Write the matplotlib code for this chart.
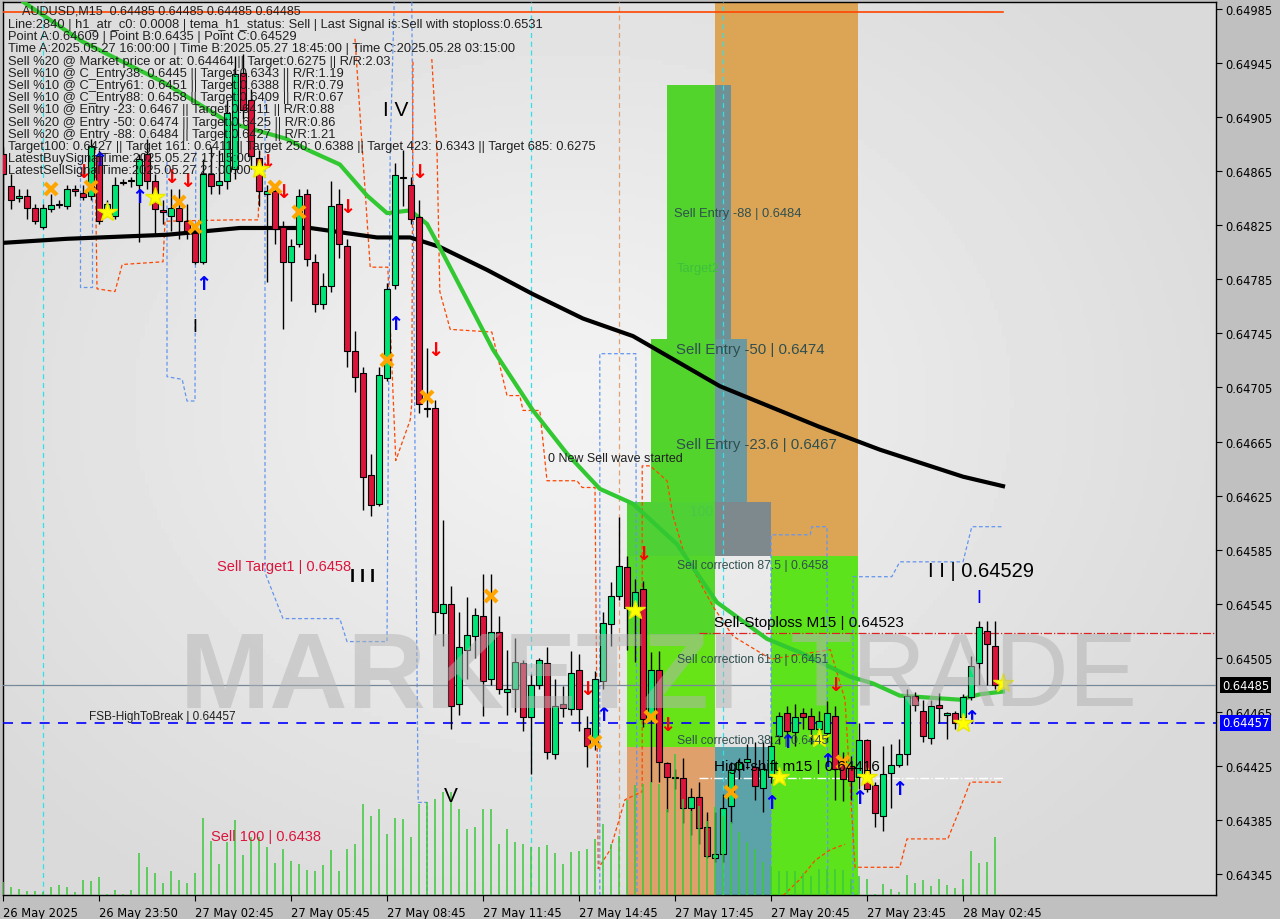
import numpy as np
import matplotlib
matplotlib.use("Agg")
import matplotlib.pyplot as plt
from matplotlib.patches import Rectangle

# ---- candles (AUDUSD M15), bar index 0..124 ----
opens = [0.64878, 0.64854, 0.64845, 0.64847, 0.64838, 0.64824, 0.64837, 0.64840, 0.64839, 0.64852,
         0.64849, 0.64847, 0.64876, 0.64835, 0.64832, 0.64856, 0.64858, 0.64855, 0.64878, 0.64858,
         0.64836, 0.64832, 0.64838, 0.64828, 0.64819, 0.64798, 0.64863, 0.64855, 0.64858, 0.64867,
         0.64938, 0.64918, 0.64875, 0.64848, 0.64850, 0.64824, 0.64798, 0.64811, 0.64848, 0.64798,
         0.64767, 0.64780, 0.64841, 0.64810, 0.64732, 0.64716, 0.64640, 0.64619, 0.64712, 0.64781,
         0.64860, 0.64855, 0.64831, 0.64690, 0.64690, 0.64538, 0.64545, 0.64471, 0.64511, 0.64521,
         0.64536, 0.64489, 0.64524, 0.64480, 0.64482, 0.64501, 0.64461, 0.64485, 0.64501, 0.64434,
         0.64471, 0.64467, 0.64496, 0.64453, 0.64441, 0.64488, 0.64530, 0.64551, 0.64572, 0.64541,
         0.64556, 0.64463, 0.64496, 0.64427, 0.64416, 0.64416, 0.64394, 0.64402, 0.64380, 0.64357,
         0.64360, 0.64395, 0.64423, 0.64428, 0.64424, 0.64409, 0.64417, 0.64447, 0.64464, 0.64450,
         0.64464, 0.64462, 0.64452, 0.64449, 0.64462, 0.64430, 0.64425, 0.64417, 0.64444, 0.64411,
         0.64388, 0.64420, 0.64426, 0.64434, 0.64477, 0.64466, 0.64446, 0.64470, 0.64463, 0.64464,
         0.64461, 0.64476, 0.64501, 0.64525, 0.64514]
closes = [0.64863, 0.64844, 0.64847, 0.64838, 0.64828, 0.64838, 0.64840, 0.64841, 0.64852, 0.64850,
          0.64846, 0.64884, 0.64828, 0.64841, 0.64855, 0.64857, 0.64858, 0.64874, 0.64858, 0.64837,
          0.64835, 0.64838, 0.64828, 0.64821, 0.64798, 0.64863, 0.64854, 0.64858, 0.64908, 0.64937,
          0.64910, 0.64876, 0.64850, 0.64850, 0.64822, 0.64798, 0.64810, 0.64847, 0.64800, 0.64767,
          0.64780, 0.64839, 0.64811, 0.64732, 0.64713, 0.64639, 0.64618, 0.64714, 0.64778, 0.64862,
          0.64861, 0.64830, 0.64693, 0.64689, 0.64539, 0.64545, 0.64469, 0.64513, 0.64522, 0.64537,
          0.64488, 0.64524, 0.64482, 0.64482, 0.64502, 0.64461, 0.64485, 0.64503, 0.64435, 0.64469,
          0.64468, 0.64494, 0.64467, 0.64440, 0.64489, 0.64531, 0.64551, 0.64573, 0.64542, 0.64554,
          0.64460, 0.64496, 0.64428, 0.64417, 0.64417, 0.64394, 0.64402, 0.64379, 0.64358, 0.64360,
          0.64394, 0.64422, 0.64428, 0.64430, 0.64410, 0.64423, 0.64440, 0.64462, 0.64451, 0.64461,
          0.64461, 0.64452, 0.64458, 0.64464, 0.64423, 0.64415, 0.64414, 0.64444, 0.64408, 0.64390,
          0.64419, 0.64426, 0.64434, 0.64477, 0.64470, 0.64447, 0.64469, 0.64468, 0.64464, 0.64457,
          0.64476, 0.64499, 0.64528, 0.64515, 0.64485]
highs = [0.64883, 0.64863, 0.64852, 0.64852, 0.64841, 0.64841, 0.64848, 0.64844, 0.64855, 0.64855,
         0.64855, 0.64889, 0.64881, 0.64844, 0.64861, 0.64859, 0.64861, 0.64878, 0.64889, 0.64863,
         0.64844, 0.64852, 0.64852, 0.64841, 0.64826, 0.64874, 0.64883, 0.64881, 0.64918, 0.64950,
         0.64952, 0.64926, 0.64881, 0.64855, 0.64855, 0.64828, 0.64815, 0.64852, 0.64852, 0.64804,
         0.64790, 0.64858, 0.64852, 0.64815, 0.64747, 0.64720, 0.64656, 0.64720, 0.64782, 0.64871,
         0.64881, 0.64861, 0.64844, 0.64734, 0.64696, 0.64607, 0.64558, 0.64539, 0.64550, 0.64542,
         0.64567, 0.64567, 0.64536, 0.64511, 0.64520, 0.64503, 0.64493, 0.64505, 0.64513, 0.64489,
         0.64484, 0.64510, 0.64508, 0.64462, 0.64495, 0.64539, 0.64561, 0.64609, 0.64580, 0.64563,
         0.64562, 0.64509, 0.64510, 0.64428, 0.64423, 0.64431, 0.64409, 0.64413, 0.64391, 0.64391,
         0.64404, 0.64428, 0.64431, 0.64441, 0.64443, 0.64443, 0.64447, 0.64465, 0.64469, 0.64471,
         0.64468, 0.64468, 0.64466, 0.64473, 0.64469, 0.64435, 0.64432, 0.64457, 0.64445, 0.64413,
         0.64440, 0.64441, 0.64445, 0.64482, 0.64480, 0.64474, 0.64474, 0.64479, 0.64465, 0.64466,
         0.64478, 0.64506, 0.64532, 0.64532, 0.64532]
lows = [0.64844, 0.64837, 0.64842, 0.64830, 0.64826, 0.64822, 0.64835, 0.64838, 0.64837, 0.64847,
        0.64844, 0.64844, 0.64826, 0.64833, 0.64830, 0.64855, 0.64853, 0.64813, 0.64852, 0.64818,
        0.64826, 0.64821, 0.64815, 0.64815, 0.64796, 0.64796, 0.64848, 0.64848, 0.64852, 0.64859,
        0.64904, 0.64867, 0.64839, 0.64783, 0.64811, 0.64748, 0.64769, 0.64809, 0.64795, 0.64761,
        0.64763, 0.64776, 0.64801, 0.64720, 0.64702, 0.64614, 0.64610, 0.64617, 0.64710, 0.64778,
        0.64839, 0.64826, 0.64686, 0.64683, 0.64522, 0.64514, 0.64452, 0.64463, 0.64489, 0.64505,
        0.64462, 0.64485, 0.64478, 0.64463, 0.64465, 0.64451, 0.64419, 0.64482, 0.64430, 0.64430,
        0.64461, 0.64463, 0.64451, 0.64424, 0.64437, 0.64482, 0.64514, 0.64548, 0.64511, 0.64502,
        0.64454, 0.64413, 0.64413, 0.64391, 0.64408, 0.64383, 0.64374, 0.64367, 0.64357, 0.64354,
        0.64354, 0.64383, 0.64415, 0.64423, 0.64400, 0.64391, 0.64412, 0.64441, 0.64440, 0.64440,
        0.64452, 0.64441, 0.64445, 0.64443, 0.64400, 0.64399, 0.64400, 0.64408, 0.64406, 0.64380,
        0.64377, 0.64394, 0.64424, 0.64426, 0.64466, 0.64443, 0.64441, 0.64457, 0.64445, 0.64452,
        0.64456, 0.64474, 0.64485, 0.64485, 0.64482]
volumes = [13, 8, 6, 4, 4, 3, 8, 10, 8, 3, 15, 14, 18, 1, 5, 1, 5, 42, 28, 22,
           12, 24, 15, 12, 22, 77, 54, 31, 53, 75, 40, 58, 58, 48, 32, 46, 34, 31, 25, 24,
           30, 45, 24, 46, 51, 91, 79, 86, 61, 77, 76, 58, 91, 93, 96, 103, 103, 86, 66, 68,
           86, 86, 51, 66, 53, 51, 48, 48, 50, 42, 31, 43, 44, 46, 56, 71, 51, 59, 95, 110,
           111, 113, 111, 86, 141, 96, 84, 89, 74, 88, 79, 73, 63, 53, 46, 33, 29, 24, 24, 24,
           22, 19, 26, 26, 26, 25, 16, 19, 16, 1, 11, 6, 3, 20, 12, 15, 9, 16, 10, 7,
           16, 44, 32, 33, 58]

# ---- moving averages (sampled points: bar index, price) ----
ma_slow_x = [0, 8, 20.5, 29.6, 38.4, 46.75, 50.9, 54.6, 60.5, 66.25, 72.5, 78.75, 89.6, 102, 109.6, 120, 125]
ma_slow_y = [0.64812, 0.64815, 0.64818, 0.64823, 0.64823, 0.64816, 0.64816, 0.64809, 0.64792, 0.64774,
             0.64756, 0.64743, 0.64706, 0.64676, 0.64659, 0.64639, 0.64632]
ma_fast_x = [2.6, 9.9, 20, 28.25, 35.4, 38, 42.1, 45.5, 48, 50.9, 53, 55, 58, 61.25, 66.25, 70.5, 74.6,
             78.75, 84.25, 89.25, 95.5, 99.6, 105.9, 108.75, 112.1, 117.1, 119.6, 122.1, 125]
ma_fast_y = [0.64990, 0.64961, 0.64931, 0.64901, 0.64889, 0.64881, 0.64870, 0.64847, 0.64834, 0.64836,
             0.64826, 0.64804, 0.64770, 0.64733, 0.64688, 0.64656, 0.64630, 0.64619, 0.64589, 0.64546,
             0.64519, 0.64509, 0.64491, 0.64486, 0.64477, 0.64475, 0.64474, 0.64478, 0.64480]

# ---- channel step lines ----
blue_steps = [
    ([9.6, 9.6, 11.1, 11.1], [0.64874, 0.64779, 0.64779, 0.64870]),
    ([20.5, 20.5, 22.4, 23, 24, 24.1], [0.64872, 0.64713, 0.64711, 0.64695, 0.64695, 0.64881]),
    ([32.75, 32.75, 35, 42.1, 43, 48, 48.4, 48.9], [0.64918, 0.64568, 0.64534, 0.64534, 0.64517, 0.64517, 0.64881, 0.64990]),
    ([51.1, 51.5, 51.9, 53, 53], [0.64990, 0.64659, 0.64398, 0.64398, 0.64329]),
    ([74.6, 74.6, 79.1, 79.25], [0.64329, 0.64730, 0.64730, 0.64329]),
    ([96, 96, 100.9, 101.1, 103, 103.1], [0.64329, 0.64596, 0.64596, 0.64602, 0.64602, 0.64329]),
    ([106.25, 106.25, 111.1, 112.1, 120, 121.1, 125], [0.64329, 0.64565, 0.64565, 0.64576, 0.64576, 0.64602, 0.64602]),
]
red_steps = [
    ([11.5, 11.75, 14, 14.9, 20, 20.25, 28.6, 31.9, 32.1],
     [0.64881, 0.64778, 0.64776, 0.64796, 0.64798, 0.64828, 0.64829, 0.64829, 0.64881]),
    ([44, 45.9, 48.1, 49.1, 50.9, 51.1, 51.25],
     [0.64963, 0.64794, 0.64794, 0.64651, 0.64681, 0.64693, 0.64948]),
    ([53.6, 54.25, 54.6, 55.9, 61.1, 63, 64.6, 65, 67.1, 68, 71.75, 72.4, 74, 74.4, 75.9, 77.75, 79.9, 79.9,
      80.9, 83, 83.75, 85, 87.1, 88.75, 91.25, 96, 103.4, 105.25, 106.5, 112.1, 113, 118.1, 119.6, 120.9, 125],
     [0.64948, 0.64881, 0.64776, 0.64748, 0.64746, 0.64699, 0.64699, 0.64688, 0.64688, 0.64636, 0.64636,
      0.64631, 0.64631, 0.64349, 0.64363, 0.64400, 0.64406, 0.64647, 0.64647, 0.64636, 0.64610, 0.64585,
      0.64561, 0.64543, 0.64521, 0.64504, 0.64511, 0.64474, 0.64350, 0.64350, 0.64371, 0.64371, 0.64393,
      0.64413, 0.64413]),
    ([97.5, 99.6, 101.5, 103.4, 105.25], [0.64329, 0.64341, 0.64355, 0.64363, 0.64367]),
]

# ---- signal markers ----
sell_x = [10, 21, 23, 33, 35, 43, 52, 54, 73, 80, 83, 104]
sell_y = [0.64865, 0.64861, 0.64858, 0.64872, 0.64850, 0.64839, 0.64865, 0.64733, 0.64482, 0.64582, 0.64456, 0.64485]
buy_x = [12, 17, 25, 49, 75, 98, 96, 103, 107, 112, 121]
buy_y = [0.64874, 0.64846, 0.64782, 0.64752, 0.64463, 0.64443, 0.64398, 0.64429, 0.64402, 0.64408, 0.64461]
star_x = [13, 19, 32, 79, 102, 97, 108, 120, 125]
star_y = [0.64835, 0.64846, 0.64867, 0.64540, 0.64446, 0.64417, 0.64417, 0.64457, 0.64486]
cross_x = [6, 11, 22, 24, 34, 37, 48, 53, 61, 74, 81, 91, 105]
cross_y = [0.64852, 0.64853, 0.64842, 0.64824, 0.64853, 0.64835, 0.64725, 0.64698, 0.64551, 0.64443,
           0.64461, 0.64406, 0.64428]

# ---- zones (x0, x1, price0, price1, colour) ----
zones = [
    (89, 106.9, 0.64580, 0.64990, '#dca556'),
    (83, 89, 0.64741, 0.64929, '#53d42d'),
    (89, 91, 0.64741, 0.64929, '#6f9196'),
    (81, 89, 0.64620, 0.64741, '#53d42d'),
    (89, 93, 0.64620, 0.64741, '#6c99a0'),
    (78, 89, 0.64580, 0.64620, '#4fd034'),
    (78, 89, 0.64522, 0.64580, '#55d62b'),
    (78, 89, 0.64439, 0.64522, '#66e418'),
    (89, 96, 0.64580, 0.64620, '#7e898d'),
    (89, 96, 0.64329, 0.64439, '#5ba3a8'),
    (78, 89, 0.64329, 0.64439, '#dfa06c'),
    (96, 106.9, 0.64329, 0.64580, '#5ce31b'),
]

y_ticks = [0.64985, 0.64945, 0.64905, 0.64865, 0.64825, 0.64785, 0.64745, 0.64705, 0.64665,
           0.64625, 0.64585, 0.64545, 0.64505, 0.64465, 0.64425, 0.64385, 0.64345]
x_tick_pos = [0, 12, 24, 36, 48, 60, 72, 84, 96, 108, 120]
x_tick_lbl = ['26 May 2025', '26 May 23:50', '27 May 02:45', '27 May 05:45', '27 May 08:45', '27 May 11:45',
              '27 May 14:45', '27 May 17:45', '27 May 20:45', '27 May 23:45', '28 May 02:45']

info_lines = [
    "Line:2840 | h1_atr_c0: 0.0008 | tema_h1_status: Sell | Last Signal is:Sell with stoploss:0.6531",
    "Point A:0.64609 | Point B:0.6435 | Point C:0.64529",
    "Time A:2025.05.27 16:00:00 | Time B:2025.05.27 18:45:00 | Time C:2025.05.28 03:15:00",
    "Sell %20 @ Market price or at: 0.64464 || Target:0.6275 || R/R:2.03",
    "Sell %10 @ C_Entry38: 0.6445 || Target:0.6343 || R/R:1.19",
    "Sell %10 @ C_Entry61: 0.6451 || Target:0.6388 || R/R:0.79",
    "Sell %10 @ C_Entry88: 0.6458 || Target:0.6409 || R/R:0.67",
    "Sell %10 @ Entry -23: 0.6467 || Target:0.6411 || R/R:0.88",
    "Sell %20 @ Entry -50: 0.6474 || Target:0.6425 || R/R:0.86",
    "Sell %20 @ Entry -88: 0.6484 || Target:0.6427 || R/R:1.21",
    "Target100: 0.6427 || Target 161: 0.6411 || Target 250: 0.6388 || Target 423: 0.6343 || Target 685: 0.6275",
    "LatestBuySignalTime:2025.05.27 17:15:00",
    "LatestSellSignalTime:2025.05.27 21:00:00",
]

W, H = 1280, 920
fig = plt.figure(figsize=(12.8, 9.2), dpi=100, facecolor='#c0c0c0')
ax = fig.add_axes([3 / W, 24 / H, 1213 / W, 893 / H])
ax.set_xlim(0, 151.625)
ax.set_ylim(0.643295, 0.649902)


def ptext(x, y, s, **kw):
    kw.setdefault('va', 'center')
    fig.text(x / W, 1 - y / H, s, **kw)


# background
gy, gx = np.mgrid[0:1:200j, 0:1:300j]
d = np.sqrt(((gx - 0.47) / 0.6) ** 2 + ((gy - 0.55) / 0.65) ** 2)
bg = 0.955 - 0.10 * np.clip(d, 0, 1)
ax.imshow(bg, cmap='gray', vmin=0, vmax=1, extent=[0, 1, 0, 1], transform=ax.transAxes,
          aspect='auto', origin='lower', zorder=0)

# zones
for x0, x1, p0, p1, c in zones:
    ax.add_patch(Rectangle((x0, p0), x1 - x0, p1 - p0, facecolor=c, edgecolor='none', zorder=1))

# watermark
ptext(180, 680, 'MARKETZI', fontsize=78, fontweight='bold', color='#b4b4b4', alpha=0.5,
      family='Liberation Sans', zorder=2)
ptext(790, 680, 'TRADE', fontsize=74, color='#b4b4b4', alpha=0.55, family='Liberation Sans', zorder=2)

# volumes
vax = ax.twinx()
vax.set_ylim(0, 893)
vax.set_yticks([])
vax.set_zorder(ax.get_zorder())
vax.patch.set_visible(False)
for s in vax.spines.values():
    s.set_visible(False)
vax.vlines(np.arange(len(volumes)), 0, volumes, color='#3cc83c', lw=1.1, zorder=2)

# vertical guides
for xv in [5, 66, 90]:
    ax.axvline(xv, color='#30e0e8', lw=0.9, ls=(0, (4, 3)), zorder=3)
ax.axvline(77, color='#e0a070', lw=0.9, ls=(0, (4, 3)), zorder=3)

# step channels
for xs, ys in blue_steps:
    ax.plot(xs, ys, color='#6495ed', lw=0.9, ls=(0, (3, 2)), zorder=3)
for xs, ys in red_steps:
    ax.plot(xs, ys, color='#ff4500', lw=0.9, ls=(0, (3, 2)), zorder=3)

# horizontal levels
ax.plot([0, 125], [0.64983, 0.64983], color='#ff4500', lw=1.2, zorder=3)
ax.axhline(0.64485, color='#778899', lw=0.9, zorder=3)
ax.axhline(0.64457, color='#0000ff', lw=1.2, ls=(0, (6, 5)), zorder=3)
ax.plot([87, 151.6], [0.64523, 0.64523], color='#dd2020', lw=0.9, ls='-.', zorder=3)
ax.plot([87, 125], [0.64416, 0.64416], color='white', lw=1.0, ls='-.', zorder=3)

# moving averages
ax.plot(ma_slow_x, ma_slow_y, color='black', lw=3, zorder=4)
ax.plot(ma_fast_x, ma_fast_y, color='#32c832', lw=3, zorder=4)

# candles
for i in range(len(opens)):
    o, c, h, l = opens[i], closes[i], highs[i], lows[i]
    ax.vlines(i, l, h, color='black', lw=1, zorder=5)
    col = '#00e676' if c >= o else '#dc143c'
    body = max(abs(c - o), 0.000006)
    ax.add_patch(Rectangle((i - 0.32, min(o, c)), 0.64, body, facecolor=col,
                           edgecolor='black', lw=0.8, zorder=6))

# signal markers
for x, y in zip(sell_x, sell_y):
    ax.text(x, y, '\u2193', color='red', fontsize=14, fontweight='bold', ha='center', va='center', zorder=7)
for x, y in zip(buy_x, buy_y):
    ax.text(x, y, '\u2191', color='#0000ff', fontsize=14, fontweight='bold', ha='center', va='center', zorder=7)
ax.plot(star_x, star_y, ls='none', marker='*', ms=15, color='#ffff00', mec='#e8e800', zorder=7)
ax.plot(cross_x, cross_y, ls='none', marker='x', ms=8, mew=3, color='#ffa500', zorder=7)

# axes styling
ax.yaxis.tick_right()
ax.set_yticks(y_ticks)
ax.set_yticklabels([f'{v:.5f}' for v in y_ticks])
ax.set_xticks(x_tick_pos)
ax.set_xticklabels(x_tick_lbl, ha='left')
ax.tick_params(axis='y', length=4, pad=3, labelsize=8.3, colors='black')
ax.tick_params(axis='x', length=4, pad=4, labelsize=8.3, colors='black')
for s in ax.spines.values():
    s.set_color('black')
    s.set_linewidth(1)

# price flags on the right scale
ptext(1222, 686, '0.64485', fontsize=8.3, color='white',
      bbox=dict(boxstyle='square,pad=0.15', facecolor='black', edgecolor='none'))
ptext(1222, 724, '0.64457', fontsize=8.3, color='white',
      bbox=dict(boxstyle='square,pad=0.15', facecolor='#0000ff', edgecolor='none'))

# info text block
ptext(22, 12, 'AUDUSD,M15  0.64485 0.64485 0.64485 0.64485', fontsize=9, color='#202020', family='Liberation Sans')
for j, line in enumerate(info_lines):
    ptext(8, 25 + 12.2 * j, line, fontsize=9.3, color='#202020', family='Liberation Sans')

# chart annotations
ptext(383, 110, 'I V', fontsize=15, color='black', family='Liberation Sans')
ptext(192, 328, 'I', fontsize=13, color='black', family='Liberation Sans')
ptext(350, 577, 'I I I', fontsize=13, color='black', family='Liberation Sans', fontweight='bold')
ptext(444, 797, 'V', fontsize=15, color='black', family='Liberation Sans')
ptext(928, 572, 'I I | 0.64529', fontsize=14.5, color='black', family='Liberation Sans')
ptext(976, 599, 'I', fontsize=13, color='#0000ff', family='Liberation Sans')
ptext(217, 567, 'Sell Target1 | 0.6458', fontsize=10.5, color='#dc143c', family='Liberation Sans')
ptext(211, 837, 'Sell 100 | 0.6438', fontsize=10.5, color='#dc143c', family='Liberation Sans')
ptext(89, 717, 'FSB-HighToBreak | 0.64457', fontsize=8.5, color='#202020', family='Liberation Sans')
ptext(548, 459, '0 New Sell wave started', fontsize=9, color='#202020', family='Liberation Sans')
ptext(674, 214, 'Sell Entry -88 | 0.6484', fontsize=9.3, color='#2f4f4f', family='Liberation Sans')
ptext(677, 269, 'Target2', fontsize=9.3, color='#3cc03c', family='Liberation Sans')
ptext(676, 350, 'Sell Entry -50 | 0.6474', fontsize=10.8, color='#2f4f4f', family='Liberation Sans')
ptext(676, 445, 'Sell Entry -23.6 | 0.6467', fontsize=10.8, color='#2f4f4f', family='Liberation Sans')
ptext(690, 512, '100', fontsize=10, color='#48c848', family='Liberation Sans')
ptext(677, 566, 'Sell correction 87.5 | 0.6458', fontsize=8.7, color='#2f4f4f', family='Liberation Sans')
ptext(714, 623, 'Sell-Stoploss M15 | 0.64523', fontsize=11, color='black', family='Liberation Sans')
ptext(677, 660, 'Sell correction 61.8 | 0.6451', fontsize=8.7, color='#2f4f4f', family='Liberation Sans')
ptext(677, 741, 'Sell correction 38.2 | 0.6445', fontsize=8.7, color='#2f4f4f', family='Liberation Sans')
ptext(714, 767, 'High-shift m15 | 0.64416', fontsize=11, color='black', family='Liberation Sans')

fig.savefig('out.png', dpi=100, facecolor=fig.get_facecolor())
